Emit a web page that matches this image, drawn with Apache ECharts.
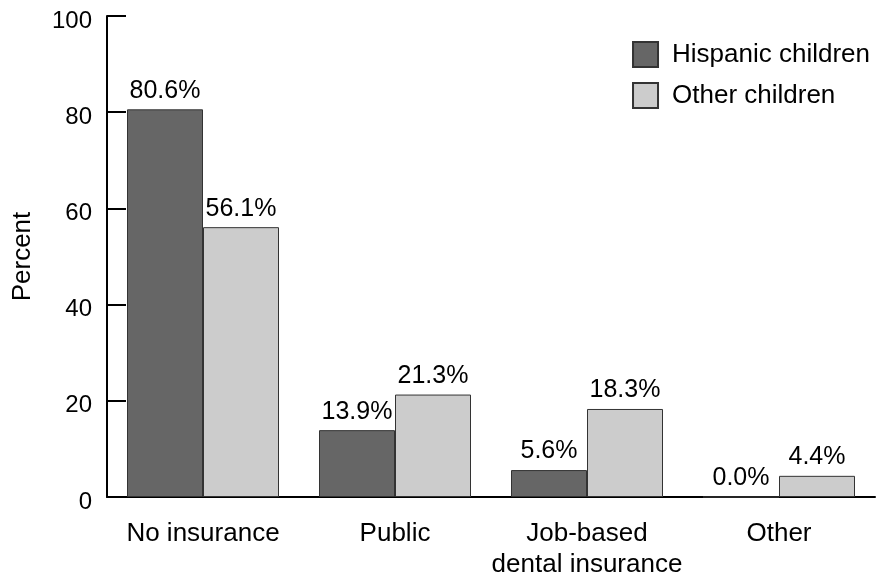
<!DOCTYPE html>
<html><head><meta charset="utf-8">
<script src="https://cdn.jsdelivr.net/npm/echarts@6/dist/echarts.min.js"></script>
<style>html,body{margin:0;padding:0;background:#fff}#c{width:880px;height:575px}</style>
</head><body><div id="c"></div>
<script>
const categories = ["No insurance", "Public", "Job-based\ndental insurance", "Other"];
const hispanic = [80.6, 13.9, 5.6, 0.0];
const other = [56.1, 21.3, 18.3, 4.4];
const yTicks = [0, 20, 40, 60, 80, 100];
const seriesNames = ["Hispanic children", "Other children"];

const font = "'Liberation Sans', Arial, sans-serif";
const chart = echarts.init(document.getElementById('c'), null, {renderer: 'canvas'});
const lbl = {show: true, position: 'top', distance: 6, formatter: p => p.value.toFixed(1) + '%', color: '#000', fontSize: 25, fontFamily: font};
chart.setOption({
  animation: false,
  grid: {left: 107, right: 5, top: 16, bottom: 78, containLabel: false, outerBoundsMode: 'none'},
  legend: {
    orient: 'vertical', right: 5, top: 36, itemWidth: 25, itemHeight: 25, itemGap: 14,
    textStyle: {fontSize: 26, fontFamily: font, color: '#000', padding: [0,0,0,9]},
    data: seriesNames.map(n => ({name: n, icon: 'rect'}))
  },
  xAxis: {
    type: 'category', data: categories,
    axisLine: {lineStyle: {color: '#000', width: 2}},
    axisTick: {inside: true, length: 12, lineStyle: {color: '#000', width: 2}},
    axisLabel: {interval: 0, fontSize: 26, fontFamily: font, color: '#000', margin: 21, lineHeight: 31}
  },
  yAxis: {
    type: 'value', min: yTicks[0], max: yTicks[yTicks.length-1], interval: 20,
    name: 'Percent', nameLocation: 'middle', nameGap: 71, nameRotate: 90,
    nameTextStyle: {fontSize: 26, fontFamily: font, color: '#000'},
    axisLine: {show: true, lineStyle: {color: '#000', width: 2}},
    axisTick: {show: true, inside: true, length: 19, lineStyle: {color: '#000', width: 2}},
    axisLabel: {margin: 15, formatter: '{a|{value}}',
      rich: {a: {fontSize: 24, fontFamily: font, color: '#000', lineHeight: 34, verticalAlign: 'bottom'}}},
    splitLine: {show: false}
  },
  series: [
    {name: seriesNames[0], type: 'bar', data: hispanic, barWidth: 76, barGap: '0%',
     itemStyle: {color: '#666666', borderColor: '#333', borderWidth: 1}, label: lbl},
    {name: seriesNames[1], type: 'bar', data: other, barWidth: 76,
     itemStyle: {color: '#cccccc', borderColor: '#333', borderWidth: 1}, label: lbl}
  ]
});
</script></body></html>
